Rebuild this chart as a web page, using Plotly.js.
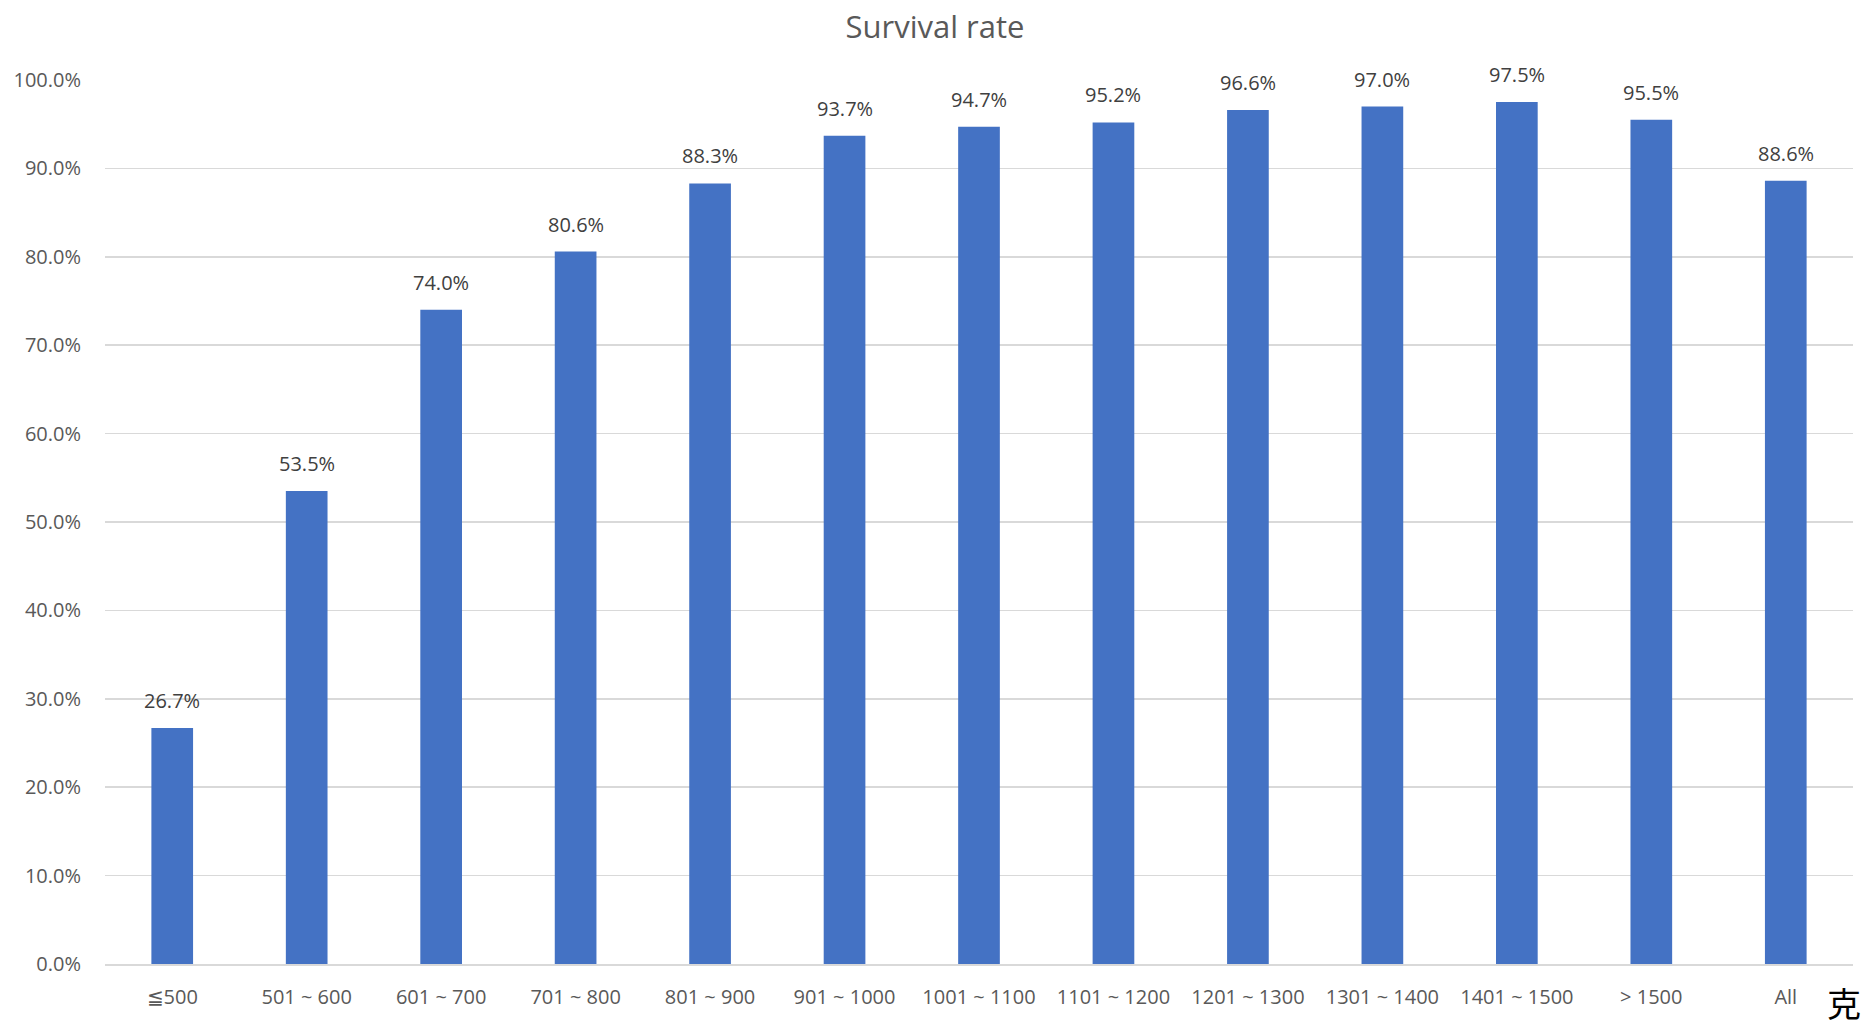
<!DOCTYPE html>
<html>
<head>
<meta charset="utf-8">
<script src="https://cdn.plot.ly/plotly-3.0.1.min.js"></script>
<style>html,body{margin:0;padding:0;background:#fff;}#chart{width:1870px;height:1027px;}</style>
</head>
<body>
<div id="chart"></div>
<script>
const categories = ["≦500", "501 ~ 600", "601 ~ 700", "701 ~ 800", "801 ~ 900", "901 ~ 1000", "1001 ~ 1100", "1101 ~ 1200", "1201 ~ 1300", "1301 ~ 1400", "1401 ~ 1500", "> 1500", "All"];
const survivalRate = [26.7, 53.5, 74.0, 80.6, 88.3, 93.7, 94.7, 95.2, 96.6, 97.0, 97.5, 95.5, 88.6];
const yTicks = [0, 10, 20, 30, 40, 50, 60, 70, 80, 90, 100];
const titleText = "Survival rate";
const unitText = "克";

const FONT = "'Open Sans', 'Noto Sans', sans-serif";

const trace = {
  type: "bar",
  x: categories,
  y: survivalRate,
  marker: {color: "#4472C4"},
  hoverinfo: "x+y",
  cliponaxis: false
};

const annotations = categories.map((c, i) => ({
  x: c, y: survivalRate[i], xref: "x", yref: "y",
  text: survivalRate[i].toFixed(1) + "%",
  showarrow: false, yanchor: "bottom", yshift: 12,
  font: {family: FONT, size: 20, color: "#404040"}
}));
annotations.push({
  x: 1, y: 0, xref: "paper", yref: "paper", xanchor: "center", yanchor: "middle",
  xshift: -9, yshift: -38, borderpad: 0,
  text: unitText, showarrow: false,
  font: {family: "'Noto Sans CJK SC', sans-serif", size: 34, color: "#000"}
});

const layout = {
  width: 1870, height: 1027,
  margin: {l: 105, r: 17, t: 80, b: 63},
  paper_bgcolor: "#fff", plot_bgcolor: "#fff",
  showlegend: false,
  bargap: 0.69,
  title: {text: titleText, x: 0.5, xanchor: "center", y: 0.974, yanchor: "middle",
          font: {family: FONT, size: 31, color: "#595959"}},
  xaxis: {
    type: "category", showgrid: false, zeroline: false,
    showline: true, linecolor: "#d9d9d9", linewidth: 2,
    ticks: "", ticklabelstandoff: 14,
    tickfont: {family: FONT, size: 20, color: "#595959"}
  },
  yaxis: {
    range: [0, 100], tickvals: yTicks,
    ticktext: yTicks.map(v => v.toFixed(1) + "%"),
    showgrid: true, gridcolor: "#d9d9d9", gridwidth: 1.5,
    zeroline: false, showline: false, ticks: "",
    ticklabelstandoff: 23,
    tickfont: {family: FONT, size: 20, color: "#595959"}
  },
  annotations: annotations
};

Plotly.newPlot("chart", [trace], layout, {displayModeBar: false, staticPlot: true});
</script>
</body>
</html>
